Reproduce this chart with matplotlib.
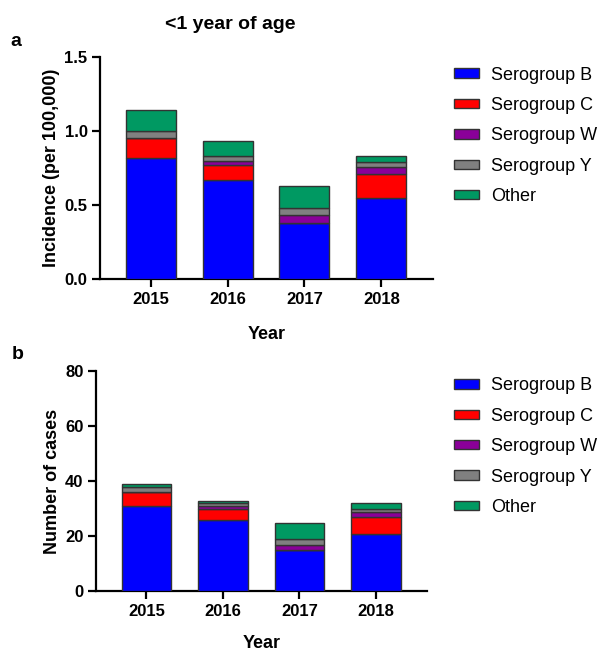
import numpy as np
import matplotlib.pyplot as plt
from matplotlib.patches import Patch

plt.rcParams['font.family'] = ['Liberation Sans', 'DejaVu Sans']

years = ['2015', '2016', '2017', '2018']
groups = ['Serogroup B', 'Serogroup C', 'Serogroup W', 'Serogroup Y', 'Other']
colors = ['#0000ff', '#ff0000', '#8a0099', '#808080', '#009962']

# incidence per 100,000 (<1 year)
inc_b = [0.82, 0.67, 0.38, 0.55]
inc_c = [0.13, 0.10, 0.00, 0.16]
inc_w = [0.00, 0.03, 0.05, 0.05]
inc_y = [0.05, 0.03, 0.05, 0.03]
inc_other = [0.14, 0.10, 0.15, 0.04]

# number of cases
n_b = [31, 26, 15, 21]
n_c = [5, 4, 0, 6]
n_w = [0, 1, 2, 2]
n_y = [2, 1, 2, 1]
n_other = [1, 1, 6, 2]

fig = plt.figure(figsize=(6.04, 6.53), dpi=100)
ax1 = fig.add_axes([0.1656, 0.5727, 0.551, 0.340])
ax2 = fig.add_axes([0.159, 0.0945, 0.548, 0.337])


def stacked(ax, series, ylim, yticks, ylabel, fmt, xpad):
    x = np.arange(len(years))
    bottom = np.zeros(len(years))
    for vals, c in zip(series, colors):
        vals = np.array(vals, dtype=float)
        ax.bar(x, vals, width=0.65, bottom=bottom, color=c,
               edgecolor='#333333', linewidth=1.0, zorder=3)
        bottom += vals
    ax.set_xlim(-0.66, 3.67)
    ax.set_ylim(*ylim)
    ax.set_yticks(yticks)
    ax.set_yticklabels([fmt.format(t) for t in yticks])
    ax.set_xticks(x)
    ax.set_xticklabels(years)
    for s in ['top', 'right']:
        ax.spines[s].set_visible(False)
    for s in ['left', 'bottom']:
        ax.spines[s].set_linewidth(1.6)
    ax.tick_params(width=1.6, length=6, labelsize=12, pad=3)
    for lab in ax.get_xticklabels() + ax.get_yticklabels():
        lab.set_fontweight('bold')
    ax.set_xlabel('Year', fontsize=13, fontweight='bold', labelpad=xpad)
    ax.set_ylabel(ylabel, fontsize=13, fontweight='bold', labelpad=3)
    handles = [Patch(facecolor=c, edgecolor='#333333', linewidth=1.0) for c in colors]
    return handles


h1 = stacked(ax1, [inc_b, inc_c, inc_w, inc_y, inc_other], (0, 1.5),
             [0, 0.5, 1.0, 1.5], 'Incidence (per 100,000)', '{:.1f}', 14)
h2 = stacked(ax2, [n_b, n_c, n_w, n_y, n_other], (0, 80),
             [0, 20, 40, 60, 80], 'Number of cases', '{:.0f}', 12)

for handles, ytop in [(h1, 0.898), (h2, 0.422)]:
    fig.legend(handles, groups, loc='upper left', bbox_to_anchor=(0.752, ytop),
               bbox_transform=fig.transFigure, frameon=False, fontsize=13,
               handlelength=1.35, handleheight=0.42, handletextpad=0.7,
               labelspacing=0.74, borderpad=0, borderaxespad=0)

fig.text(0.381, 0.962, '<1 year of age', ha='center', va='center',
         fontsize=14, fontweight='bold')
fig.text(0.017, 0.936, 'a', ha='left', va='center', fontsize=14, fontweight='bold')
fig.text(0.019, 0.457, 'b', ha='left', va='center', fontsize=14, fontweight='bold')

fig.savefig('out.png', dpi=100)
